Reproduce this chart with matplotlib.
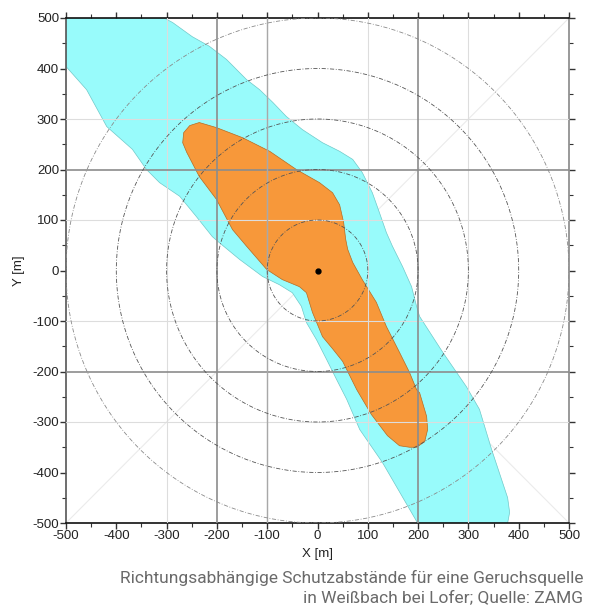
import numpy as np
import matplotlib
matplotlib.use("Agg")
import matplotlib.pyplot as plt
from matplotlib.ticker import MultipleLocator

plt.rcParams["axes.unicode_minus"] = False

# Äußere Zone (cyan), Randpunkte in m
cyan_x = [-500, -305, -288, -249, -215, -181, -141, -115, -89, -62, -30, 10, 44, 70, 89,
          109, 123, 137, 149, 169, 187, 197, 203, 249, 296, 322, 346, 368, 378, 382, 378,
          199, 129, 84, 58, 38, 18, -2, -22, -32, -50, -76, -109, -155, -195, -209, -241,
          -274, -314, -340, -368, -419, -459, -500]
cyan_y = [500, 500, 491, 463, 444, 418, 378, 358, 333, 305, 279, 253, 236, 220, 194,
          154, 115, 75, 48, 8, -32, -71, -91, -162, -230, -275, -354, -420, -450, -479, -500,
          -500, -380, -315, -255, -216, -176, -137, -103, -71, -44, -28, -12, 22, 55, 67, 107,
          147, 174, 200, 240, 285, 358, 404]

# Innere Zone (orange)
orange_x = [-235, -201, -149, -95, -42, 4, 30, 44, 52, 56, 60, 70, 89, 117, 137, 163, 183,
            197, 203, 217, 219, 213, 197, 183, 163, 139, 107, 78, 50, 30, 10, -10, -22,
            -36, -70, -101, -141, -169, -201, -235, -260, -268, -266, -254]
orange_y = [293, 283, 263, 236, 200, 174, 154, 130, 95, 62, 42, 16, -18, -63, -111, -162, -202,
            -236, -242, -289, -315, -339, -350, -350, -347, -327, -285, -236, -180, -155, -131, -83, -44,
            -32, -18, 2, 48, 81, 141, 186, 234, 253, 273, 287]

ring_radii = [100, 200, 300, 400, 500]
grid_dark = [-200, 200]
grid_light = [-300, -100, 100, 300]
ticks = list(range(-500, 501, 100))

fig = plt.figure(figsize=(5.95, 6.08), dpi=100)
ax = fig.add_axes([66 / 595, 1 - 523 / 608, 503 / 595, 505 / 608])

# Diagonalen (sehr schwach, unter den Flächen)
ax.plot([-500, 500], [500, -500], color="#ebebeb", lw=0.8, zorder=0.5)
ax.plot([-500, 500], [-500, 500], color="#ebebeb", lw=0.8, zorder=0.5)

ax.fill(cyan_x, cyan_y, facecolor="#98fbfb", edgecolor="#6fc9c9", lw=0.5, zorder=1)
ax.fill(orange_x, orange_y, facecolor="#f7983a", edgecolor="#b86a20", lw=0.5, zorder=2)

# Raster
for v in grid_light:
    ax.axvline(v, color="#dddddd", lw=0.8, zorder=3)
    ax.axhline(v, color="#dddddd", lw=0.8, zorder=3)
for v in grid_dark:
    ax.axvline(v, color="#8c8c8c", lw=1.2, zorder=3)
    ax.axhline(v, color="#8c8c8c", lw=1.2, zorder=3)
ax.axvline(-100, color="#a8a8a8", lw=1.0, zorder=3)

# Abstandskreise
t = np.linspace(0, 2 * np.pi, 400)
for r in ring_radii:
    col = "#555555" if r < 500 else "#8a8a8a"
    ax.plot(r * np.cos(t), r * np.sin(t), color=col, lw=0.6,
            linestyle=(0, (5, 2, 1, 2)), zorder=4)

# Quelle
ax.plot([0], [0], "o", color="black", ms=3.5, zorder=5)

ax.set_xlim(-500, 500)
ax.set_ylim(-500, 500)
ax.set_xticks(ticks)
ax.set_yticks(ticks)
ax.xaxis.set_minor_locator(MultipleLocator(50))
ax.yaxis.set_minor_locator(MultipleLocator(50))
ax.tick_params(which="both", direction="out", top=True, right=True,
               labeltop=False, labelright=False, colors="#333333")
ax.tick_params(which="major", length=4, width=1, labelsize=9.5, pad=1)
ax.tick_params(which="minor", length=3, width=0.8)
for lab in ax.get_xticklabels() + ax.get_yticklabels():
    lab.set_family("Liberation Sans")
    lab.set_color("#222222")

for side in ["top", "bottom"]:
    ax.spines[side].set_color("#111111")
    ax.spines[side].set_linewidth(1.2)
ax.spines["left"].set_color("#555555")
ax.spines["left"].set_linewidth(1.2)
ax.spines["right"].set_color("#888888")
ax.spines["right"].set_linewidth(1.2)

ax.set_xlabel("X [m]", family="Liberation Sans", fontsize=9.5, labelpad=4, color="#222222")
ax.set_ylabel("Y [m]", family="Liberation Sans", fontsize=9.5, labelpad=5, color="#222222")

fig.text(583 / 595, 1 - 578 / 608, "Richtungsabhängige Schutzabstände für eine Geruchsquelle",
         ha="right", va="center", family="Roboto", fontsize=12.5, color="#6a6a6a")
fig.text(583 / 595, 1 - 598 / 608, "in Weißbach bei Lofer; Quelle: ZAMG",
         ha="right", va="center", family="Roboto", fontsize=12.5, color="#6a6a6a")

fig.savefig("out.png", dpi=100)
